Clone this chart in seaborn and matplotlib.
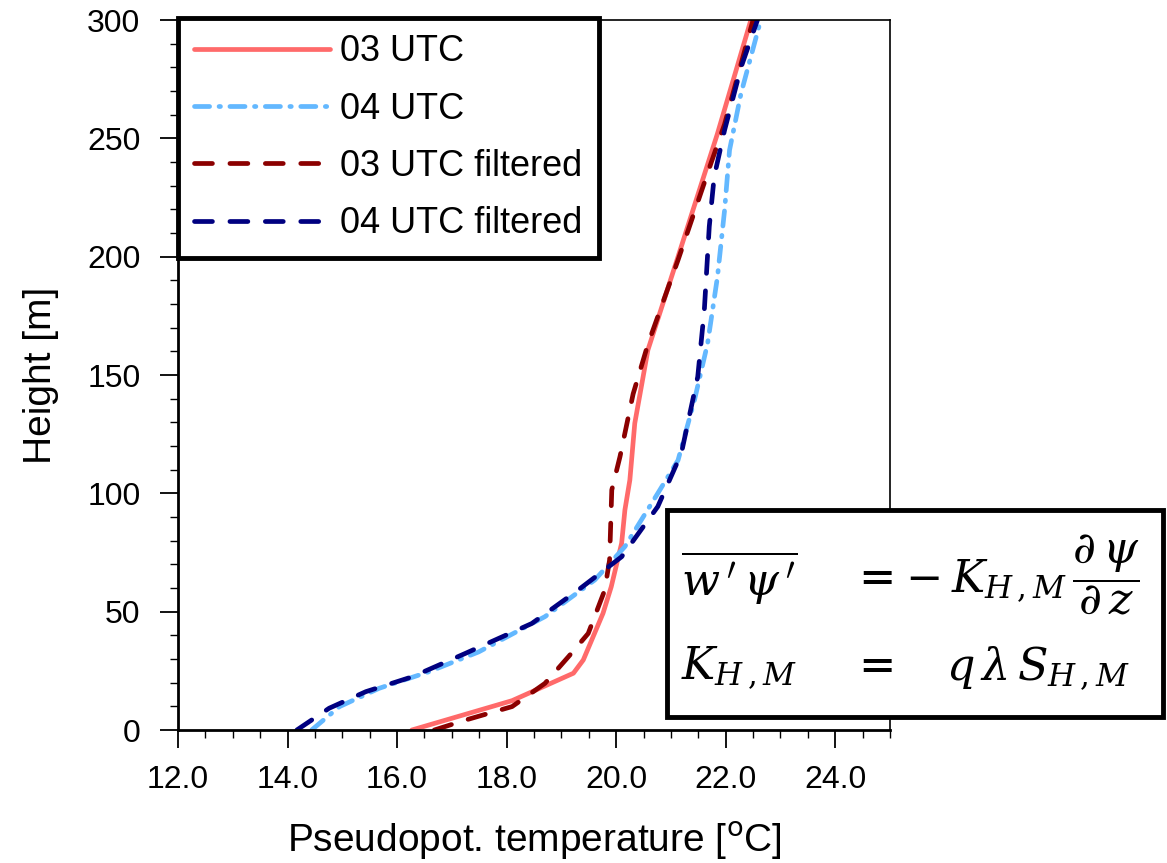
import numpy as np
import pandas as pd
import matplotlib
matplotlib.use("Agg")
import matplotlib.pyplot as plt
from matplotlib.patches import Rectangle
from matplotlib.ticker import MultipleLocator, FormatStrFormatter
import seaborn as sns

# ---- data ----
h_03 = [0, 12.4, 24, 29.6, 49.3, 60.5, 78.9, 93, 105.6, 129.6, 160.6, 200, 252, 300]
t_03 = [16.27, 18.1, 19.22, 19.4, 19.76, 19.91, 20.1, 20.16, 20.25, 20.34, 20.58, 21.13, 21.85, 22.46]

h_04 = [0, 9.9, 17.6, 24.6, 33, 47.9, 63.4, 77.5, 100, 114, 139.4, 163.4, 191.5, 219.7, 245, 269, 300]
t_04 = [14.44, 14.95, 15.67, 16.58, 17.49, 18.7, 19.61, 20.16, 20.76, 21.13, 21.43, 21.67, 21.85, 21.98, 22.07, 22.28, 22.64]

h_03f = [0, 4.2, 9.9, 19.7, 31, 40.8, 59, 71.8, 101.4, 115.5, 142, 163, 198.6, 239.4, 256, 300]
t_03f = [16.68, 17.25, 18.1, 18.7, 19.13, 19.49, 19.79, 19.88, 19.92, 20.07, 20.31, 20.58, 21.13, 21.73, 21.98, 22.5]

h_04f = [0, 9.2, 16.2, 22.5, 32.4, 45, 59.2, 73.2, 94.4, 116.9, 149.3, 177.5, 212.7, 233.8, 253.5, 280, 300]
t_04f = [14.17, 14.76, 15.43, 16.28, 17.25, 18.46, 19.31, 20.1, 20.76, 21.19, 21.49, 21.61, 21.7, 21.79, 21.98, 22.28, 22.58]

labels = ["03 UTC", "04 UTC", "03 UTC filtered", "04 UTC filtered"]
colors = ["#FF6A6A", "#63B8FF", "#8B0000", "#000080"]

x_ticks = [12.0, 14.0, 16.0, 18.0, 20.0, 22.0, 24.0]
y_ticks = [0, 50, 100, 150, 200, 250, 300]

# ---- style ----
sns.set_theme(style="white")
plt.rcParams["font.family"] = ["Liberation Sans", "DejaVu Sans"]
plt.rcParams["mathtext.fontset"] = "dejavusans"
plt.rcParams["axes.edgecolor"] = "black"
plt.rcParams["text.color"] = "black"
plt.rcParams["axes.labelcolor"] = "black"
plt.rcParams["xtick.color"] = "black"
plt.rcParams["ytick.color"] = "black"
plt.rcParams["xtick.labelcolor"] = "black"
plt.rcParams["ytick.labelcolor"] = "black"

fig = plt.figure(figsize=(11.67, 8.63), dpi=100)
W, H = 1167, 863
ax = fig.add_axes([178 / W, 133 / H, 712 / W, 710 / H])

series = [(t_03, h_03), (t_04, h_04), (t_03f, h_03f), (t_04f, h_04f)]
styles = ["-", (0, (3.2, 2.0, 0.3, 2.0)), (0, (3.8, 3.7)), (0, (3.8, 3.7))]

for (t, h), lab, col, ls in zip(series, labels, colors, styles):
    df = pd.DataFrame({"T": t, "h": h})
    sns.lineplot(data=df, x="T", y="h", sort=False, estimator=None, ax=ax,
                 color=col, linewidth=3.4, linestyle=ls, label=lab,
                 dash_capstyle="round", solid_capstyle="round")

ax.set_xlim(12, 25)
ax.set_ylim(0, 300)
ax.set_xticks(x_ticks)
ax.set_yticks(y_ticks)
ax.xaxis.set_major_formatter(FormatStrFormatter("%.1f"))
ax.xaxis.set_minor_locator(MultipleLocator(0.5))
ax.yaxis.set_minor_locator(MultipleLocator(10))
ax.tick_params(which="major", direction="out", length=13, width=1.3,
               labelsize=23, top=False, right=False, left=True, bottom=True)
ax.tick_params(which="minor", direction="out", length=5.5, width=1.0,
               top=False, right=False, left=True, bottom=True)
ax.tick_params(axis="y", which="major", pad=14)
ax.tick_params(axis="x", which="major", pad=12)

for side in ["top", "right"]:
    ax.spines[side].set_linewidth(1.2)
for side in ["left", "bottom"]:
    ax.spines[side].set_linewidth(2.0)

ax.set_xlabel(r"Pseudopot. temperature [$^{\mathsf{o}}$C]", fontsize=28, labelpad=18)
ax.set_ylabel("Height [m]", fontsize=28, labelpad=20)

leg = ax.legend(loc="upper left", bbox_to_anchor=(178 / W, 1 - 18 / H),
                bbox_transform=fig.transFigure, borderaxespad=0,
                fontsize=26, handlelength=3.75, handletextpad=0.3,
                labelspacing=0.62, borderpad=0.45, fancybox=False,
                framealpha=1, edgecolor="black")
leg.get_frame().set_linewidth(3.5)

# ---- equation box ----
box = Rectangle((667 / W, 1 - 717 / H), (1163 - 667) / W, (717 - 510) / H,
                transform=fig.transFigure, facecolor="white", edgecolor="black",
                linewidth=3.5, zorder=10, clip_on=False)
fig.add_artist(box)

eq_kw = dict(fontsize=32, math_fontfamily="dejavuserif", va="center",
             ha="left", zorder=11, color="black")
fig.text(681 / W, 1 - 578 / H, r"$\overline{w\,'\,\psi\,'}$", **eq_kw)
fig.text(850 / W, 1 - 575 / H,
         r"$=\!-K_{H\,,M}\,\dfrac{\partial\,\psi}{\partial\,z}$", **eq_kw)
fig.text(681 / W, 1 - 668 / H, r"$K_{H\,,M}$", **eq_kw)
fig.text(850 / W, 1 - 668 / H, r"$=\quad q\,\lambda\,S_{H\,,M}$", **eq_kw)

fig.savefig("out.png", dpi=100)
